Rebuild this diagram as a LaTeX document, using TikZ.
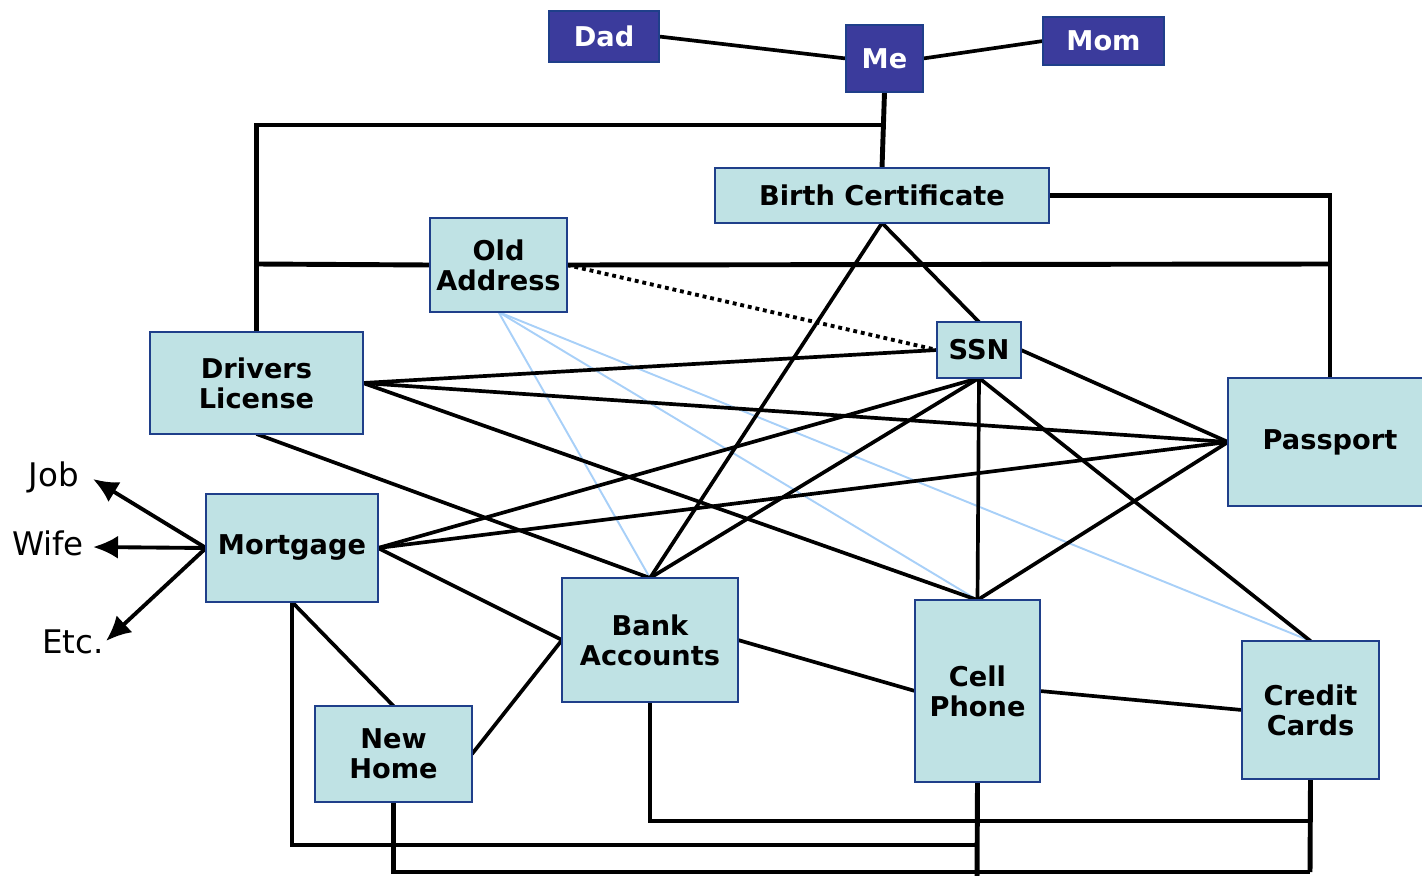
\documentclass[tikz,border=0pt]{standalone}
\usepackage{fontspec}
\setmainfont{DejaVu Sans}
\usetikzlibrary{arrows.meta,backgrounds}
\definecolor{darkbox}{HTML}{3B3B9C}
\definecolor{lightbox}{HTML}{BFE2E4}
\definecolor{boxborder}{HTML}{1F3F8A}
\definecolor{bluelink}{HTML}{A8D0F8}
\tikzset{
  lbox/.style={draw=boxborder, fill=lightbox, line width=1.3pt, inner sep=0pt, outer sep=0pt,
    align=center, font=\fontsize{15.5}{17}\selectfont\bfseries},
  dbox/.style={draw=boxborder, fill=darkbox, line width=1.3pt, inner sep=0pt, outer sep=0pt,
    text=white, font=\fontsize{15.5}{17}\selectfont\bfseries},
  frame/.style={line width=2.8pt},
  link/.style={line width=2.1pt},
  soft/.style={line width=1.1pt, draw=bluelink},
  dots/.style={line width=2.2pt, dash pattern=on 2.2pt off 2.2pt},
  arr/.style={line width=2.2pt, -{Latex[length=5mm,width=4.6mm]}},
  lab/.style={font=\fontsize{18.5}{21}\selectfont, inner sep=0pt}
}
\begin{document}
\begin{tikzpicture}[x=0.02cm, y=-0.02cm]
\useasboundingbox (0,0) rectangle (1422,875);
% nodes
\node[dbox, minimum width=2.2cm, minimum height=1.02cm] (dad) at (604,36.5) {Dad};
\node[dbox, minimum width=1.54cm, minimum height=1.34cm] (me) at (884.5,58.5) {Me};
\node[dbox, minimum width=2.42cm, minimum height=0.96cm] (mom) at (1103.5,41) {Mom};
\node[lbox, minimum width=6.68cm, minimum height=1.10cm] (bc) at (882,195.5) {Birth Certificate};
\node[lbox, minimum width=2.74cm, minimum height=1.88cm] (oa) at (498.5,265) {Old\\Address};
\node[lbox, minimum width=1.68cm, minimum height=1.12cm] (ssn) at (979,350) {SSN};
\node[lbox, minimum width=4.26cm, minimum height=2.04cm] (dl) at (256.5,383) {Drivers\\License};
\node[lbox, minimum width=4.08cm, minimum height=2.56cm] (pp) at (1330,442) {Passport};
\node[lbox, minimum width=3.44cm, minimum height=2.16cm] (mg) at (292,548) {Mortgage};
\node[lbox, minimum width=3.52cm, minimum height=2.48cm] (ba) at (650,640) {Bank\\Accounts};
\node[lbox, minimum width=2.5cm, minimum height=3.64cm] (cp) at (977.5,691) {Cell\\Phone};
\node[lbox, minimum width=2.74cm, minimum height=2.76cm] (cc) at (1310.5,710) {Credit\\Cards};
\node[lbox, minimum width=3.14cm, minimum height=1.92cm] (nh) at (393.5,754) {New\\Home};
\node[lab] (job) at (54,477) {Job};
\node[lab] (wife) at (48,543) {Wife};
\node[lab] (etc) at (73,642) {Etc.};
% free-end coordinates
\coordinate (j1) at (883,125);
\coordinate (j2) at (257,264);
\coordinate (j3) at (1330,264);
\coordinate (j4) at (1310,821);
\coordinate (j5) at (977,845);
\coordinate (j6) at (1310,872);
\coordinate (j7) at (977,880);
\coordinate (ja) at (93,479);
\coordinate (jb) at (93,547);
\coordinate (jc) at (106,641);
\begin{pgfonlayer}{background}
% family
\draw[link] (dad.east) -- (me.west);
\draw[link] (me.east) -- (mom.west);
\draw[frame] (me.south) -- (bc.north);
\draw[frame] (dl.north) |- (j1);
\draw[frame] (oa.west) -- (j2);
\draw[frame] (oa.east) -- (j3);
\draw[frame] (bc.east) -| (pp.north);
% dotted and blue
\draw[dots] (oa.east) -- (ssn.west);
\draw[soft] (oa.south) -- (ba.north);
\draw[soft] (oa.south) -- (cp.north);
\draw[soft] (oa.south) -- (cc.north);
% diagonal links
\draw[link] (bc.south) -- (ssn.north);
\draw[link] (bc.south) -- (ba.north);
\draw[link] (dl.east) -- (ssn.west);
\draw[link] (dl.east) -- (pp.west);
\draw[link] (dl.east) -- (cp.north);
\draw[link] (dl.south) -- (ba.north);
\draw[link] (ssn.east) -- (pp.west);
\draw[link] (ssn.south) -- (mg.east);
\draw[link] (ssn.south) -- (ba.north);
\draw[link] (ssn.south) -- (cp.north);
\draw[link] (ssn.south) -- (cc.north);
\draw[link] (pp.west) -- (mg.east);
\draw[link] (pp.west) -- (cp.north);
\draw[link] (mg.east) -- (ba.west);
\draw[link] (mg.south) -- (nh.north);
\draw[link] (nh.east) -- (ba.west);
\draw[link] (ba.east) -- (cp.west);
\draw[link] (cp.east) -- (cc.west);
% bottom frame
\draw[frame] (ba.south) |- (j4);
\draw[frame] (mg.south) |- (j5);
\draw[frame] (nh.south) |- (j6);
\draw[frame] (cp.south) -- (j7);
\draw[frame] (cc.south) -- (j6);
% arrows
\draw[arr] (mg.west) -- (ja);
\draw[arr] (mg.west) -- (jb);
\draw[arr] (mg.west) -- (jc);
\end{pgfonlayer}
\end{tikzpicture}
\end{document}
